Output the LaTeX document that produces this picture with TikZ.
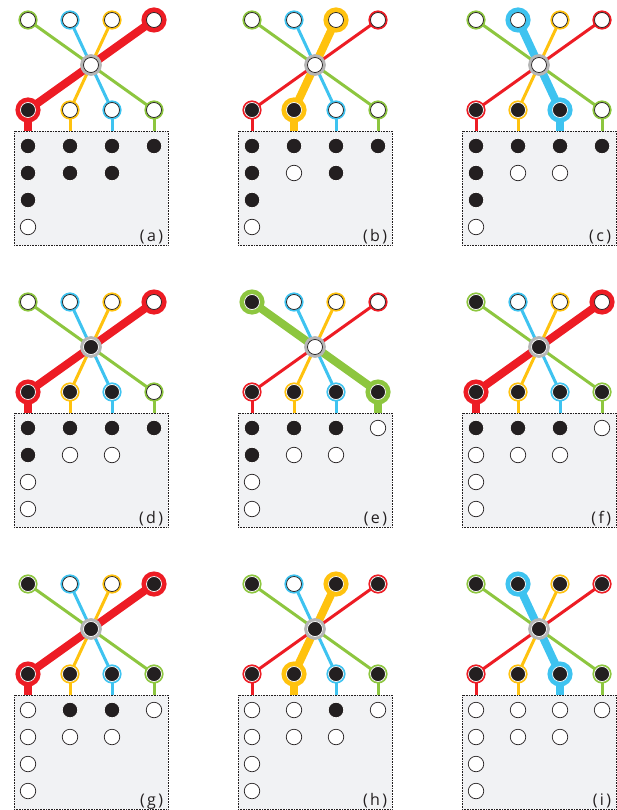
\documentclass[tikz,border=0pt]{standalone}
\usepackage{fontspec}
\setsansfont{Open Sans}
\usepackage{xcolor}
\definecolor{swgreen}{HTML}{8DC63F}
\definecolor{swblue}{HTML}{3EC3F0}
\definecolor{swyellow}{HTML}{FFC20E}
\definecolor{swred}{HTML}{ED1C24}
\definecolor{swgray}{HTML}{B5B5B5}
\definecolor{swbox}{HTML}{F1F2F4}
\definecolor{swblack}{HTML}{231F20}
\colorlet{swtop1}{swgreen}
\colorlet{swtop2}{swblue}
\colorlet{swtop3}{swyellow}
\colorlet{swtop4}{swred}
\colorlet{swbot1}{swred}
\colorlet{swbot2}{swyellow}
\colorlet{swbot3}{swblue}
\colorlet{swbot4}{swgreen}
\usetikzlibrary{calc,backgrounds}

% #1 label, #2 shift, #3 lit wire, #4 top, #5 hub, #6 bottom, #7-#9 box
\newcommand{\swpanel}[9]{%
\begin{scope}[shift={#2},name prefix=#1-]
 \node[panelbox] (box) at (91,188) {};
 \node[tagtext] (tag) at ($(box.south east)+(-5,-4)$) {(\hspace{2.4pt}#1\hspace{2.4pt})};
 \foreach \s [count=\i] in {#4} {
  \pgfmathsetmacro\w{\i==#3 ? 10 : 4.2}
  \node[port,\s,preaction={draw=swtop\i,line width=\w pt}] (t\i) at (42*\i-14,20) {};
 }
 \node[port,#5,preaction={draw=swgray,line width=6.6pt}] (hub) at (91,65) {};
 \foreach \s [count=\i] in {#6} {
  \pgfmathsetmacro\w{\i==5-#3 ? 10 : 4.2}
  \node[port,\s,preaction={draw=swbot\i,line width=\w pt}] (b\i) at (42*\i-14,110) {};
 }
 \foreach \s [count=\i] in {#7} \node[cell,\s] (r1c\i) at (42*\i-14,146) {};
 \foreach \s [count=\i] in {#8} \node[cell,\s] (r2c\i) at (42*\i-14,173) {};
 \foreach \s [count=\i] in {#9} \node[cell,\s] (r\i c1) at (28,173+27*\i) {};
 \begin{scope}[on background layer]
  \foreach \i in {1,...,4} {
   \pgfmathtruncatemacro\j{5-\i}
   \pgfmathsetmacro\w{\i==#3 ? 8 : 3}
   \draw[draw=swtop\i,line width=\w pt] (t\i) -- (b\j);
   \draw[draw=swtop\i,line width=\w pt] (b\j) -- (b\j |- box.north);
  }
 \end{scope}
\end{scope}}

\begin{document}
\begin{tikzpicture}[x=1pt,y=-1pt]
\tikzset{
 port/.style={circle,inner sep=0pt,minimum size=15pt,line width=0.7pt},
 cell/.style={circle,inner sep=0pt,minimum size=15.5pt,line width=0.7pt},
 lit/.style={fill=swblack,draw=white},
 unlit/.style={fill=white,draw=swblack},
 panelbox/.style={draw=swblack,densely dotted,line width=0.6pt,fill=swbox,minimum width=154pt,minimum height=114pt,inner sep=0pt},
 tagtext/.style={font=\sffamily\fontsize{16}{16}\selectfont,text=swblack,anchor=base east,inner sep=0pt}
}
\useasboundingbox (0,0) rectangle (617,810);

\swpanel{a}{(0,0)}{4}{unlit,unlit,unlit,unlit}{unlit}{lit,unlit,unlit,unlit}{lit,lit,lit,lit}{lit,lit,lit}{lit,unlit}
\swpanel{b}{(224,0)}{3}{unlit,unlit,unlit,unlit}{unlit}{lit,lit,unlit,unlit}{lit,lit,lit,lit}{lit,unlit,lit}{lit,unlit}
\swpanel{c}{(448,0)}{2}{unlit,unlit,unlit,unlit}{unlit}{lit,lit,lit,unlit}{lit,lit,lit,lit}{lit,unlit,unlit}{lit,unlit}

\swpanel{d}{(0,282)}{4}{unlit,unlit,unlit,unlit}{lit}{lit,lit,lit,unlit}{lit,lit,lit,lit}{lit,unlit,unlit}{unlit,unlit}
\swpanel{e}{(224,282)}{1}{lit,unlit,unlit,unlit}{unlit}{lit,lit,lit,lit}{lit,lit,lit,unlit}{lit,unlit,unlit}{unlit,unlit}
\swpanel{f}{(448,282)}{4}{lit,unlit,unlit,unlit}{lit}{lit,lit,lit,lit}{lit,lit,lit,unlit}{unlit,unlit,unlit}{unlit,unlit}

\swpanel{g}{(0,564)}{4}{lit,unlit,unlit,lit}{lit}{lit,lit,lit,lit}{unlit,lit,lit,unlit}{unlit,unlit,unlit}{unlit,unlit}
\swpanel{h}{(224,564)}{3}{lit,unlit,lit,lit}{lit}{lit,lit,lit,lit}{unlit,unlit,lit,unlit}{unlit,unlit,unlit}{unlit,unlit}
\swpanel{i}{(448,564)}{2}{lit,lit,lit,lit}{lit}{lit,lit,lit,lit}{unlit,unlit,unlit,unlit}{unlit,unlit,unlit}{unlit,unlit}
\end{tikzpicture}
\end{document}
